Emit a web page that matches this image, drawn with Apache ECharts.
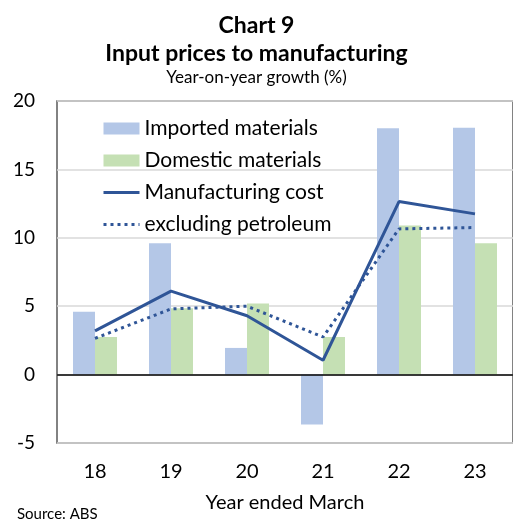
<!DOCTYPE html>
<html>
<head>
<meta charset="utf-8">
<script src="https://cdn.jsdelivr.net/npm/echarts@6/dist/echarts.min.js"></script>
<style>
  html, body { margin: 0; padding: 0; background: #fff; }
  #chart { width: 513px; height: 520px; }
</style>
</head>
<body>
<div id="chart"></div>
<script>
const years = ['18', '19', '20', '21', '22', '23'];
const imported = [4.6, 9.6, 1.95, -3.65, 18.0, 18.05];
const domestic = [2.75, 4.85, 5.2, 2.75, 10.9, 9.6];
const manufacturing = [3.2, 6.1, 4.3, 1.05, 12.65, 11.75];
const exPetroleum = [2.65, 4.8, 5.0, 2.75, 10.65, 10.75];

const font = 'Lato, "Open Sans", sans-serif';
const lineBlue = '#2F5597';

let chart = echarts.init(document.getElementById('chart'), null, { renderer: 'canvas' });

let option = {
    animation: false,
    textStyle: { fontFamily: font },
    title: [
        {
            text: 'Chart 9',
            left: 'center', top: 9,
            textStyle: { fontFamily: font, fontSize: 23, fontWeight: 'bold', color: '#000' }
        },
        {
            text: 'Input prices to manufacturing',
            left: 'center', top: 37,
            textStyle: { fontFamily: font, fontSize: 23, fontWeight: 'bold', color: '#000' }
        },
        {
            text: 'Year-on-year growth (%)',
            left: 'center', top: 64,
            textStyle: { fontFamily: font, fontSize: 17, fontWeight: 'normal', color: '#000' }
        },
        {
            text: 'Source: ABS',
            left: 12, top: 502,
            textStyle: { fontFamily: font, fontSize: 15, fontWeight: 'normal', color: '#000' }
        }
    ],
    legend: {
        orient: 'vertical',
        left: 102, top: 118,
        padding: 0,
        itemWidth: 36, itemHeight: 12,
        itemGap: 11,
        textStyle: { fontFamily: font, fontSize: 21, color: '#000', lineHeight: 21 },
        data: [
            { name: 'Imported materials', icon: 'rect' },
            { name: 'Domestic materials', icon: 'rect' },
            { name: 'Manufacturing cost', itemStyle: { opacity: 0 }, lineStyle: { width: 3 } },
            { name: 'excluding petroleum', itemStyle: { opacity: 0 }, lineStyle: { width: 3, type: [3, 4] } }
        ]
    },
    grid: {
        left: 57, right: -8, top: 101, bottom: 77,
        show: true, borderColor: '#595959', borderWidth: 1.5,
        containLabel: false
    },
    xAxis: {
        type: 'category',
        data: years,
        boundaryGap: true,
        axisLine: { show: false, onZero: false },
        axisTick: { show: false },
        axisLabel: { fontSize: 20, color: '#000', margin: 19 },
        name: 'Year ended March',
        nameLocation: 'middle',
        nameGap: 50,
        nameTextStyle: { fontSize: 20, color: '#000' }
    },
    yAxis: {
        type: 'value',
        min: -5, max: 20, interval: 5,
        axisLine: { show: false },
        axisTick: { show: false },
        axisLabel: { fontSize: 19, color: '#000', margin: 22 },
        splitLine: { lineStyle: { color: '#D9D9D9', width: 1.5 } }
    },
    series: [
        {
            name: 'Imported materials',
            type: 'bar',
            data: imported,
            barWidth: 22,
            barGap: '0%',
            itemStyle: { color: '#B4C7E7' },
            markLine: {
                silent: true,
                symbol: 'none',
                label: { show: false },
                lineStyle: { color: '#000', type: 'solid', width: 1.5 },
                data: [{ yAxis: 0 }]
            }
        },
        {
            name: 'Domestic materials',
            type: 'bar',
            data: domestic,
            barWidth: 22,
            barGap: '0%',
            itemStyle: { color: '#C5E0B4' }
        },
        {
            name: 'Manufacturing cost',
            type: 'line',
            data: manufacturing,
            symbol: 'none',
            lineStyle: { color: lineBlue, width: 3 },
            itemStyle: { color: lineBlue },
            z: 5
        },
        {
            name: 'excluding petroleum',
            type: 'line',
            data: exPetroleum,
            symbol: 'none',
            lineStyle: { color: lineBlue, width: 3, type: [3, 4] },
            itemStyle: { color: lineBlue },
            z: 5
        }
    ]
};

chart.setOption(option);
</script>
</body>
</html>
